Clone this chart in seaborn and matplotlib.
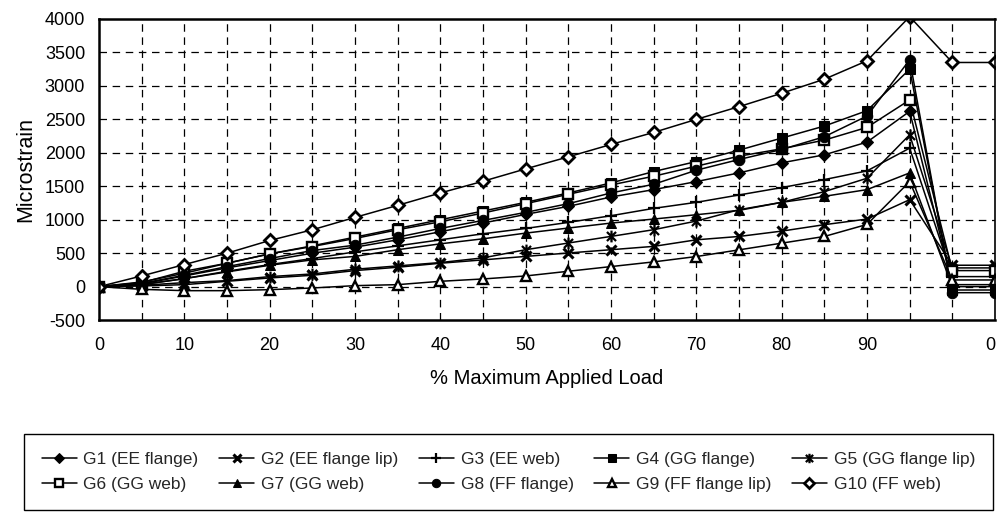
import matplotlib
matplotlib.use("Agg")
import matplotlib.pyplot as plt
from matplotlib.path import Path
import pandas as pd
import seaborn as sns

# % maximum applied load (last two points are after unloading)
load_pct = [0, 5, 10, 15, 20, 25, 30, 35, 40, 45, 50, 55, 60, 65, 70, 75, 80, 85, 90, 95, 100, 105]
tick_pos = [0, 10, 20, 30, 40, 50, 60, 70, 80, 90, 105]
tick_text = ["0", "10", "20", "30", "40", "50", "60", "70", "80", "90", "0"]

names = ["G1 (EE flange)", "G2 (EE flange lip)", "G3 (EE web)", "G4 (GG flange)",
         "G5 (GG flange lip)", "G6 (GG web)", "G7 (GG web)", "G8 (FF flange)",
         "G9 (FF flange lip)", "G10 (FF web)"]

# microstrain readings
g1 = [0, 40, 160, 280, 390, 500, 590, 700, 820, 950, 1080, 1200, 1340, 1450, 1570, 1700, 1850, 1970, 2160, 2620, 30, 30]
g2 = [0, 10, 30, 80, 130, 170, 240, 290, 350, 400, 452, 503, 552, 602, 700, 750, 830, 926, 1010, 1300, 320, 320]
g3 = [0, 30, 120, 230, 330, 420, 520, 610, 700, 790, 870, 960, 1060, 1170, 1260, 1370, 1480, 1600, 1730, 2070, 150, 150]
g4 = [0, 70, 200, 350, 490, 610, 740, 870, 1000, 1130, 1260, 1400, 1550, 1720, 1870, 2040, 2220, 2400, 2630, 3250, -50, -50]
g5 = [0, 20, 60, 90, 150, 190, 260, 310, 360, 430, 552, 652, 751, 851, 980, 1150, 1260, 1420, 1620, 2270, 280, 280]
g6 = [0, 60, 230, 350, 490, 600, 720, 850, 970, 1100, 1240, 1380, 1520, 1650, 1800, 1950, 2060, 2190, 2380, 2790, 240, 240]
g7 = [0, 30, 120, 220, 320, 400, 452, 552, 640, 715, 800, 876, 950, 1010, 1075, 1140, 1260, 1350, 1450, 1700, 0, 0]
g8 = [0, 50, 170, 300, 420, 540, 620, 740, 870, 990, 1110, 1240, 1400, 1530, 1740, 1900, 2050, 2240, 2550, 3390, -90, -90]
g9 = [0, -40, -60, -60, -45, -20, 15, 30, 80, 115, 160, 230, 300, 370, 450, 550, 650, 750, 930, 1570, 100, 100]
g10 = [0, 160, 330, 500, 690, 850, 1035, 1215, 1400, 1575, 1760, 1940, 2125, 2305, 2500, 2690, 2890, 3100, 3375, 4035, 3350, 3350]

values = [g1, g2, g3, g4, g5, g6, g7, g8, g9, g10]

# excel style "star": x with a vertical bar
star = Path([(-1, -1), (1, 1), (-1, 1), (1, -1), (0, -1.3), (0, 1.3)],
            [Path.MOVETO, Path.LINETO] * 3)

styles = [
    dict(marker="D", ms=6, mfc="black"),
    dict(marker="x", ms=7, mew=2.2),
    dict(marker="+", ms=9, mew=1.6),
    dict(marker="s", ms=6.5, mfc="black"),
    dict(marker=star, ms=8.5, mew=1.6, mfc="none"),
    dict(marker="s", ms=7, mfc="white", mew=1.7),
    dict(marker="^", ms=7.5, mfc="black"),
    dict(marker="o", ms=7.5, mfc="black"),
    dict(marker="^", ms=7.5, mfc="white", mew=1.7),
    dict(marker="D", ms=6, mfc="white", mew=2),
]

sns.set_theme(style="white")
plt.rcParams["font.family"] = ["Liberation Sans", "DejaVu Sans"]
plt.rcParams["axes.unicode_minus"] = False

fig = plt.figure(figsize=(9.98, 5.13), dpi=100)
ax = fig.add_axes([0.0992, 0.376, 0.8978, 0.587])

for name, vals, st in zip(names, values, styles):
    df = pd.DataFrame({"load": load_pct, "strain": vals})
    sns.lineplot(data=df, x="load", y="strain", ax=ax, color="black", lw=1.1,
                 mec="black", label=name, sort=False, **st)

ax.set_xlim(0, 105)
ax.set_ylim(-500, 4000)
ax.set_yticks(range(-500, 4001, 500))
ax.set_xticks(load_pct, minor=True)
ax.set_xticks(tick_pos)
ax.set_xticklabels(tick_text)
ax.get_xticklabels()[-1].set_horizontalalignment("right")
ax.tick_params(axis="both", which="both", direction="out", length=4, width=1,
               color="black", labelsize=13, labelcolor="black", pad=6)
ax.tick_params(axis="x", which="major", length=4, pad=8)

# dashed grid
for x in load_pct[1:-1]:
    ax.axvline(x, color="black", lw=0.9, ls=(0, (6, 4.5)), zorder=0)
for y in range(0, 4000, 500):
    ax.axhline(y, color="black", lw=0.9, ls=(0, (6, 4.5)), zorder=0)

for side in ["left", "bottom", "top"]:
    ax.spines[side].set_linewidth(1.8)
ax.spines["right"].set_linewidth(1.2)
for s in ax.spines.values():
    s.set_color("black")

ax.set_xlabel("% Maximum Applied Load", fontsize=14.5, color="black", labelpad=11)
ax.set_ylabel("Microstrain", fontsize=15.5, color="black", labelpad=6)

handles, labels = ax.get_legend_handles_labels()
ax.get_legend().remove()
order = [0, 5, 1, 6, 2, 7, 3, 8, 4, 9]
leg = fig.legend([handles[i] for i in order], [labels[i] for i in order],
                 ncol=5, loc="center", mode="expand",
                 bbox_to_anchor=(0.021, 0.002, 0.977, 0.156),
                 fontsize=12.5, frameon=True, fancybox=False, framealpha=1,
                 edgecolor="black", borderpad=1.0, labelspacing=0.6,
                 borderaxespad=0.2, handlelength=2.0, handletextpad=0.4,
                 markerscale=0.8)
leg.get_frame().set_linewidth(1.0)

fig.savefig("out.png", dpi=100)
